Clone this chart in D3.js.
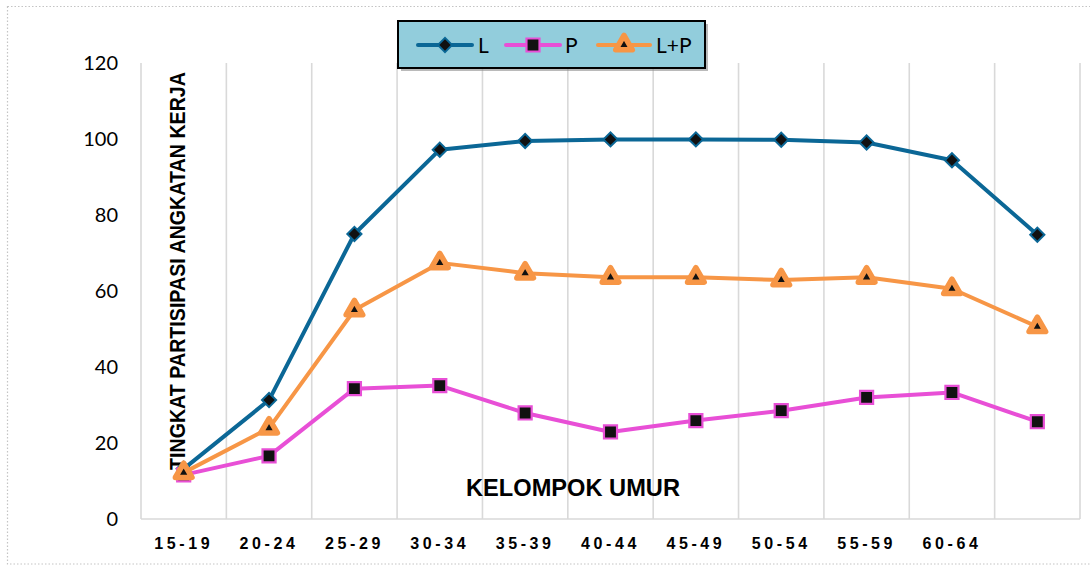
<!DOCTYPE html>
<html>
<head>
<meta charset="utf-8">
<script src="https://cdn.jsdelivr.net/npm/d3@7"></script>
<style>
  body { margin: 0; background: #fff; }
  svg { display: block; }
</style>
</head>
<body>
<svg id="chart" width="1090" height="565"></svg>
<script>
// age groups (last group has no label on the axis)
const categories = ["15-19", "20-24", "25-29", "30-34", "35-39", "40-44", "45-49", "50-54", "55-59", "60-64", ""];
const valuesL  = [13.2, 31.3, 75.0, 97.2, 99.5, 99.9, 99.9, 99.8, 99.1, 94.4, 74.8];
const valuesP  = [11.6, 16.6, 34.3, 35.1, 27.9, 22.9, 25.9, 28.5, 32.0, 33.3, 25.6];
const valuesLP = [12.2, 23.9, 55.0, 67.4, 64.7, 63.6, 63.6, 62.9, 63.6, 60.6, 50.6];
const yTicks = [0, 20, 40, 60, 80, 100, 120];

const series = [
    { name: "L", values: valuesL, color: "#0B6796", shape: "diamond" },
    { name: "P", values: valuesP, color: "#E84FD6", shape: "square" },
    { name: "L+P", values: valuesLP, color: "#F79646", shape: "triangle" }
];

const svg = d3.select("#chart");

// outer dotted chart frame
svg.append("rect")
    .attr("x", 7.5).attr("y", 6.5).attr("width", 1090).attr("height", 557.5)
    .attr("fill", "none").attr("stroke", "#c4c4c4").attr("stroke-width", 1.2)
    .attr("stroke-dasharray", "1.5,2");

const x = d3.scaleBand().domain(categories).range([141, 1080]).padding(0);
const y = d3.scaleLinear().domain([0, 120]).range([519, 63]);

// vertical gridlines at category boundaries
const bounds = categories.map(c => x(c)).concat([x.range()[1]]);
svg.append("g").selectAll("line")
    .data(bounds)
    .join("line")
    .attr("x1", d => d).attr("x2", d => d)
    .attr("y1", y(120)).attr("y2", y(0))
    .attr("stroke", "#d9d9d9").attr("stroke-width", 1.6);

svg.append("line")
    .attr("x1", x.range()[0]).attr("x2", x.range()[1])
    .attr("y1", y(0)).attr("y2", y(0))
    .attr("stroke", "#d9d9d9").attr("stroke-width", 1.6);

// y axis labels
const yAxis = svg.append("g")
    .attr("transform", "translate(118,0)")
    .call(d3.axisLeft(y).tickValues(yTicks).tickSize(0).tickPadding(0));
yAxis.select(".domain").remove();
yAxis.selectAll("text")
    .attr("font-family", "Lato, 'Open Sans', sans-serif")
    .attr("font-size", 20)
    .attr("fill", "#000");

// x axis labels
const xAxis = svg.append("g")
    .attr("transform", `translate(0,${y(0)})`)
    .call(d3.axisBottom(x).tickSize(0).tickPadding(0));
xAxis.select(".domain").remove();
xAxis.selectAll("text")
    .attr("y", 30)
    .attr("dy", null)
    .attr("font-family", "'Liberation Sans', Arial, sans-serif")
    .attr("font-weight", "bold")
    .attr("font-size", 16)
    .attr("letter-spacing", 3.6)
    .attr("fill", "#000");

// axis titles
svg.append("text")
    .attr("transform", "translate(185,271) rotate(-90)")
    .attr("text-anchor", "middle")
    .attr("font-family", "'Liberation Sans', Arial, sans-serif")
    .attr("font-weight", "bold")
    .attr("font-size", 22)
    .attr("textLength", 398)
    .attr("lengthAdjust", "spacingAndGlyphs")
    .text("TINGKAT PARTISIPASI ANGKATAN KERJA");

svg.append("text")
    .attr("x", 573).attr("y", 496)
    .attr("text-anchor", "middle")
    .attr("font-family", "'Liberation Sans', Arial, sans-serif")
    .attr("font-weight", "bold")
    .attr("font-size", 23)
    .attr("textLength", 214)
    .attr("lengthAdjust", "spacingAndGlyphs")
    .text("KELOMPOK UMUR");

const cx = d => x(d) + x.bandwidth() / 2;

function marker(sel, s) {
    if (s.shape === "diamond") {
        sel.attr("d", d3.symbol(d3.symbolSquare, 100)())
            .attr("fill", "#111").attr("stroke", s.color).attr("stroke-width", 2);
    } else if (s.shape === "square") {
        sel.attr("d", d3.symbol(d3.symbolSquare, 170)())
            .attr("fill", "#111").attr("stroke", s.color).attr("stroke-width", 2.2);
    } else {
        sel.attr("d", d3.symbol(d3.symbolTriangle, 120)())
            .attr("fill", "#111").attr("stroke", s.color).attr("stroke-width", 5.5)
            .attr("stroke-linejoin", "round");
    }
}

const line = d3.line().x(d => cx(d.cat)).y(d => y(d.v));

series.forEach(s => {
    const pts = categories.map((c, i) => ({ cat: c, v: s.values[i] }));
    const g = svg.append("g");
    g.append("path")
        .datum(pts)
        .attr("d", line)
        .attr("fill", "none")
        .attr("stroke", s.color)
        .attr("stroke-width", 4)
        .attr("stroke-linejoin", "round");
    g.selectAll("path.m")
        .data(pts)
        .join("path")
        .attr("class", "m")
        .attr("transform", d => `translate(${cx(d.cat)},${y(d.v)})${s.shape === "diamond" ? " rotate(45)" : ""}`)
        .call(marker, s);
});

// legend
const legend = svg.append("g");
legend.append("rect")
    .attr("x", 401).attr("y", 24).attr("width", 307).attr("height", 47)
    .attr("fill", "#8c8c8c").attr("opacity", 0.6);
legend.append("rect")
    .attr("x", 398).attr("y", 21).attr("width", 307).attr("height", 47)
    .attr("fill", "#92CDDC").attr("stroke", "#000").attr("stroke-width", 2);

const legendItems = [
    { s: series[0], x0: 418, x1: 472, tx: 478 },
    { s: series[1], x0: 506, x1: 560, tx: 565 },
    { s: series[2], x0: 598, x1: 650, tx: 656 }
];
legendItems.forEach(it => {
    legend.append("line")
        .attr("x1", it.x0).attr("x2", it.x1).attr("y1", 45).attr("y2", 45)
        .attr("stroke", it.s.color).attr("stroke-width", 4).attr("stroke-linecap", "round");
    const mx = (it.x0 + it.x1) / 2;
    legend.append("path")
        .attr("transform", `translate(${mx},45)${it.s.shape === "diamond" ? " rotate(45)" : ""}`)
        .call(marker, it.s);
    legend.append("text")
        .attr("x", it.tx).attr("y", 53)
        .attr("font-family", "Lato, 'Open Sans', sans-serif")
        .attr("font-size", 21)
        .attr("fill", "#000")
        .text(it.s.name);
});
</script>
</body>
</html>
